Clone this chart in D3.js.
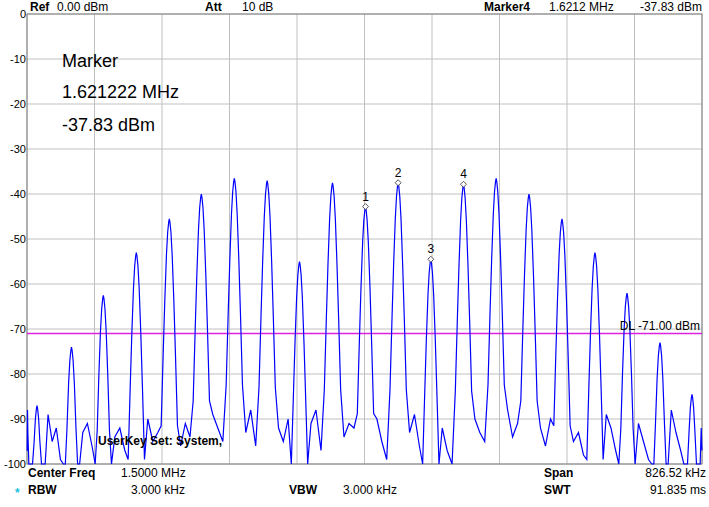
<!DOCTYPE html><html><head><meta charset="utf-8">
<script src="https://cdn.jsdelivr.net/npm/d3@7"></script>
<style>body{margin:0;background:#fff}svg{font-family:"Liberation Sans",Arial,sans-serif}</style></head><body>
<svg id="c" width="709" height="507"></svg>
<script>
const yTicks=[0,-10,-20,-30,-40,-50,-60,-70,-80,-90,-100];
const peakFreqs=[1.0990,1.1412,1.1802,1.2206,1.2610,1.3002,1.3406,1.3808,1.4204,1.4608,1.5012,1.5412,1.5812,1.6212,1.6612,1.7014,1.7418,1.7822,1.8214,1.8618,1.9010];
const peakLevels=[-87,-74,-62.5,-53,-45.5,-40,-36.5,-37,-55,-37.5,-42.8,-37.5,-54.5,-37.83,-36.5,-40,-45.5,-53,-62,-73,-84.5];
// noise floor between peaks (read values per gap, first = before first peak)
const gapNoise=[[-97,-88,-93],[-89,-95,-92,-99],[-93,-91,-96],[-94,-92,-97],[-90,-95,-93],[-96,-91,-94],[-89,-92,-95],[-93,-88,-96],[-92,-95,-90],[-91,-88,-97],[-94,-91,-92],[-90,-95,-99],[-93,-89,-96],[-92,-97,-100],[-90,-93,-95],[-88,-94,-91],[-92,-96,-90],[-95,-93,-98],[-89,-92,-97],[-91,-95,-99],[-88,-93,-97],[-92,-96]];
const markers=[{n:"1",i:10},{n:"2",i:11},{n:"3",i:12},{n:"4",i:13}];
const fStart=1.5-0.82652/2, fEnd=1.5+0.82652/2;

const svg=d3.select("#c");
const L=27,R=702,T=14,B=464;
const x=d3.scaleLinear().domain([fStart,fEnd]).range([L,R]);
const y=d3.scaleLinear().domain([-100,0]).range([B,T]);
const xt=d3.range(11).map(i=>fStart+i*(fEnd-fStart)/10);
svg.append("g").selectAll("line").data(xt).join("line").attr("x1",d=>x(d)).attr("x2",d=>x(d)).attr("y1",T).attr("y2",B).attr("stroke","#c0c0c0");
svg.append("g").selectAll("line").data(yTicks).join("line").attr("x1",L).attr("x2",R).attr("y1",d=>y(d)).attr("y2",d=>y(d)).attr("stroke","#c0c0c0");
svg.append("rect").attr("x",L).attr("y",T).attr("width",R-L).attr("height",B-T).attr("fill","none").attr("stroke","#808080");
svg.append("g").selectAll("text").data(yTicks).join("text").attr("x",L-1).attr("y",d=>y(d)+4).attr("text-anchor","end").attr("font-size",11).text(d=>d);
svg.append("line").attr("x1",L).attr("x2",R).attr("y1",y(-71)).attr("y2",y(-71)).attr("stroke","#e020e0").attr("stroke-width",1.5);
const off=[-10,-7.5,-5.5,-3.5,-2,-0.8,0,0.8,2,3.5,5.5,7.5,10], drop=[46,30,18,8,3,0.8,0,0.8,3,8,18,30,46];
let pts=[];
gapNoise.forEach((g,gi)=>{
  const a=gi===0?fStart:peakFreqs[gi-1]+0.011, b=gi<peakFreqs.length?peakFreqs[gi]-0.011:fEnd;
  g.forEach((v,k)=>pts.push([a+(b-a)*(k+0.5)/g.length,v]));
  if(gi<peakFreqs.length){const p=peakFreqs[gi],lv=peakLevels[gi];
    off.forEach((o,k)=>pts.push([p+o/1000,lv-drop[k]]));}
});
pts.unshift([fStart,-97]);pts.push([fEnd,-97]);
svg.append("path").datum(pts).attr("fill","none").attr("stroke","#0000ff").attr("stroke-width",1.2)
 .attr("d",d3.line().x(d=>x(d[0])).y(d=>y(Math.max(-100,d[1]))));
svg.append("text").attr("x",R-2).attr("y",y(-71)-4).attr("text-anchor","end").attr("font-size",12).text("DL -71.00 dBm");
markers.forEach(m=>{const cx=x(peakFreqs[m.i]),cy=y(peakLevels[m.i]);
 svg.append("path").attr("d",`M${cx},${cy-3}L${cx+3},${cy}L${cx},${cy+3}L${cx-3},${cy}Z`).attr("fill","#fff").attr("stroke","#555");
 svg.append("text").attr("x",cx).attr("y",cy-6).attr("text-anchor","middle").attr("font-size",12).text(m.n);});
[["Marker",67],["1.621222 MHz",98],["-37.83 dBm",131]].forEach(([t,yy])=>svg.append("text").attr("x",62).attr("y",yy).attr("font-size",18).text(t));
svg.append("text").attr("x",98).attr("y",445).attr("font-size",12).attr("font-weight","bold").text("UserKey Set:     System,");
const hdr=(t,xx,b,a)=>svg.append("text").attr("x",xx).attr("y",11).attr("font-size",12).attr("font-weight",b?"bold":"normal").attr("text-anchor",a||"start").text(t);
hdr("Ref",30,1);hdr("0.00 dBm",57);hdr("Att",205,1);hdr("10 dB",242);hdr("Marker4",484,1);hdr("1.6212 MHz",549);hdr("-37.83 dBm",702,0,"end");
const ft=(t,xx,yy,b,a)=>svg.append("text").attr("x",xx).attr("y",yy).attr("font-size",12).attr("font-weight",b?"bold":"normal").attr("text-anchor",a||"start").text(t);
ft("Center Freq",28,477,1);ft("1.5000 MHz",121,477);ft("Span",544,477,1);ft("826.52 kHz",706,477,0,"end");
ft("RBW",28,494,1);ft("3.000 kHz",131,494);ft("VBW",289,494,1);ft("3.000 kHz",343,494);ft("SWT",544,494,1);ft("91.835 ms",706,494,0,"end");
ft("*",15,497,1).attr("fill","#20c0e0");
</script></body></html>
